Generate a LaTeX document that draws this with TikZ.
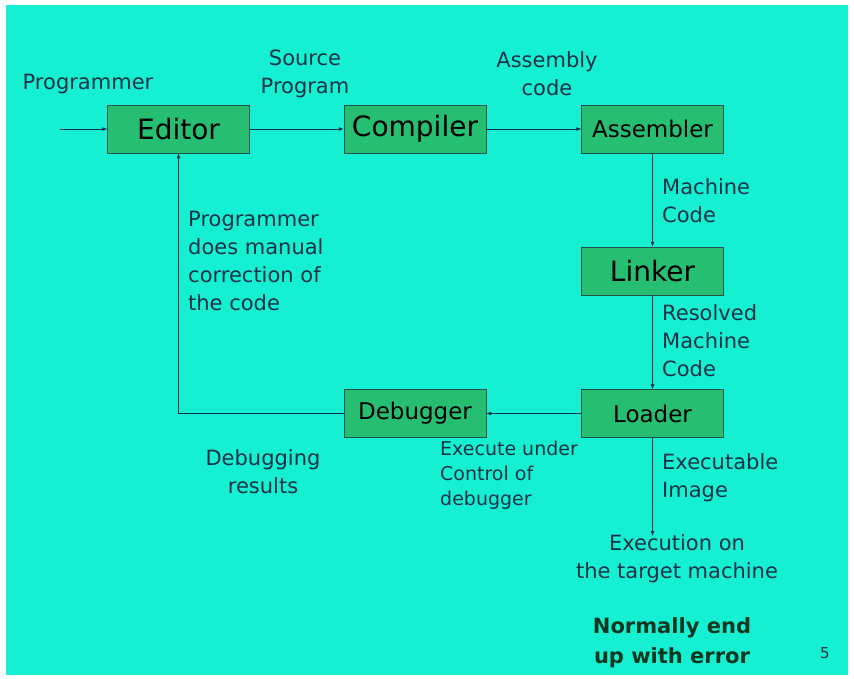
\documentclass[tikz,border=0pt]{standalone}
\usepackage{fontspec}
\setmainfont{DejaVu Sans}
\usetikzlibrary{positioning,arrows.meta}
\definecolor{slidebg}{RGB}{22,240,210}
\definecolor{boxfill}{RGB}{38,190,112}
\definecolor{boxline}{RGB}{35,80,75}
\definecolor{inkblue}{RGB}{20,50,70}
\definecolor{inkgreen}{RGB}{10,55,30}
\tikzset{
  stage/.style={draw=boxline,fill=boxfill,minimum width=142pt,minimum height=48pt,
    inner sep=0pt,text=black},
  bigname/.style={font=\fontsize{28}{32}\selectfont},
  smallname/.style={font=\fontsize{23}{26}\selectfont},
  note/.style={text=inkblue,font=\fontsize{21}{28}\selectfont,inner sep=0pt},
  thinnote/.style={text=inkblue,font=\fontsize{19}{25}\selectfont,inner sep=0pt},
  flow/.style={draw=inkblue,line width=0.8pt,-{Latex[length=5pt,width=4pt]}}
}
\begin{document}
\begin{tikzpicture}[x=1pt,y=-1pt]
    % Slide
    \useasboundingbox (0,0) rectangle (854,679);
    \fill[white] (0,0) rectangle (854,679);
    \fill[slidebg] (6,5) rectangle (848,675);
    % Stages
    \node[stage,bigname] (editor) at (178.5,129) {Editor};
    \node[stage,bigname] (compiler) at (415,129) {Compiler};
    \node[stage,smallname] (assembler) at (652.5,129) {Assembler};
    \node[stage,bigname] (linker) at (652.5,271) {Linker};
    \node[stage,smallname] (loader) at (652.5,413.5) {Loader};
    \node[stage,smallname] (debugger) at (415,413.5) {Debugger};
    % Connectors
    \coordinate (input) at (60,129);
    \coordinate (exectip) at (652.5,536);
    \draw[flow] (input) -- (editor);
    \draw[flow] (editor) -- (compiler);
    \draw[flow] (compiler) -- (assembler);
    \draw[flow] (assembler) -- (linker);
    \draw[flow] (linker) -- (loader);
    \draw[flow] (loader) -- (debugger);
    \draw[flow] (debugger.west) -| (editor.south);
    \draw[flow] (loader) -- (exectip);
    % Labels
    \node[note] (programmer) at (88,84) {Programmer};
    \node[note,align=center] (source) at (305,74) {Source\\Program};
    \node[note,align=center] (assembly) at (547,74) {Assembly\\code};
    \node[note,align=left,anchor=west] (machine) at (662,201) {Machine\\Code};
    \node[note,align=left,anchor=west] (resolved) at (662,341) {Resolved\\Machine\\Code};
    \node[note,align=left,anchor=west] (manual) at (188,261) {Programmer\\does manual\\correction of\\the code};
    \node[note,align=center] (results) at (263,472) {Debugging\\results};
    \node[thinnote,align=left,anchor=west] (control) at (440,475) {Execute under\\Control of\\debugger};
    \node[note,align=left,anchor=west] (image) at (662,478) {Executable\\Image};
    \node[note,align=center] (exec) at (677,559) {Execution on\\the target machine};
    \node[note,align=center,text=inkgreen,font=\bfseries\fontsize{21}{30}\selectfont] (error) at (672,643) {Normally end\\up with error};
    \node[note,font=\fontsize{15}{18}\selectfont] (page) at (825,653) {5};
\end{tikzpicture}
\end{document}
